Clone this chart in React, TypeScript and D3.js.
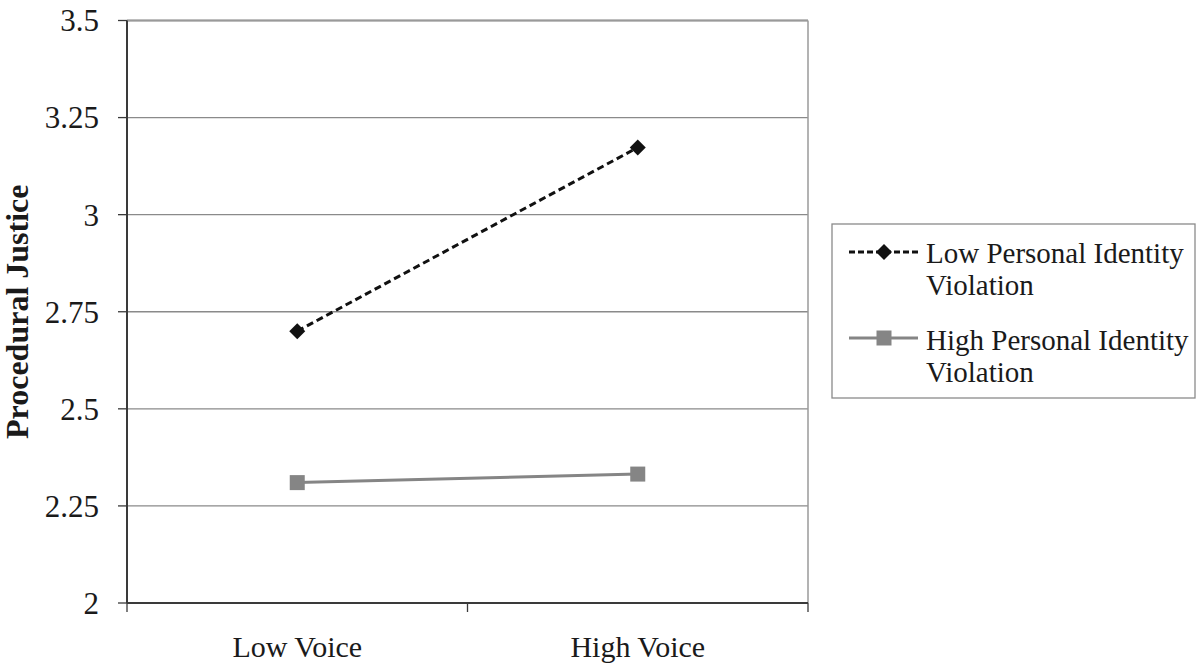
import React from "react";
import * as d3 from "d3";

const categories = ["Low Voice", "High Voice"];
const seriesNames = ["Low Personal Identity Violation", "High Personal Identity Violation"];
const lowPIV = [2.7, 3.173];
const highPIV = [2.31, 2.332];
const yTicks = [2, 2.25, 2.5, 2.75, 3, 3.25, 3.5];
const yTickLabels = ["2", "2.25", "2.5", "2.75", "3", "3.25", "3.5"];

const W = 1200;
const H = 666;
const L = 127, R = 808, T = 20.5, B = 603;
const FONT = "'Liberation Serif', 'Times New Roman', serif";

export default function App() {
  const x = d3.scaleBand().domain(categories).range([L, R]).padding(0);
  const y = d3.scaleLinear().domain([2, 3.5]).range([B, T]);
  const cx = (c: string) => (x(c) as number) + x.bandwidth() / 2;
  const line = d3.line<[number, number]>().x((d) => d[0]).y((d) => d[1]);
  const lowPts: [number, number][] = categories.map((c, i) => [cx(c), y(lowPIV[i])]);
  const highPts: [number, number][] = categories.map((c, i) => [cx(c), y(highPIV[i])]);
  const diamond = (px: number, py: number, r: number) =>
    `M${px},${py - r}L${px + r},${py}L${px},${py + r}L${px - r},${py}Z`;
  const xEdges = [L, ...categories.map((c) => (x(c) as number) + x.bandwidth())];

  return (
    <svg width={W} height={H} style={{ position: "absolute", left: 0, top: 0, background: "#fff" }}>
      {yTicks.slice(1).map((t) => (
        <line key={t} x1={L} x2={R} y1={y(t)} y2={y(t)} stroke="#8a8a8a" strokeWidth={1.3} />
      ))}
      <line x1={L} x2={R} y1={T} y2={T} stroke="#9a9a9a" strokeWidth={2} />
      <line x1={R} x2={R} y1={T} y2={B} stroke="#9a9a9a" strokeWidth={1.5} />
      <line x1={L} x2={L} y1={T} y2={B} stroke="#3a3a3a" strokeWidth={2} />
      {yTicks.map((t, i) => (
        <g key={t}>
          <line x1={L - 9} x2={L} y1={y(t)} y2={y(t)} stroke="#3a3a3a" strokeWidth={1.3} />
          <text x={99} y={y(t)} dy="0.35em" textAnchor="end" fontFamily={FONT} fontSize={31} fill="#1a1a1a">
            {yTickLabels[i]}
          </text>
        </g>
      ))}
      <line x1={L} x2={R} y1={B} y2={B} stroke="#3a3a3a" strokeWidth={2} />
      {xEdges.map((e, i) => (
        <line key={i} x1={e} x2={e} y1={B} y2={B + 9} stroke="#3a3a3a" strokeWidth={1.3} />
      ))}
      {categories.map((c) => (
        <text key={c} x={cx(c)} y={657} textAnchor="middle" fontFamily={FONT} fontSize={30} fill="#1a1a1a">
          {c}
        </text>
      ))}
      <text
        transform={`translate(28,${(T + B) / 2}) rotate(-90)`}
        textAnchor="middle"
        fontFamily={FONT}
        fontWeight="bold"
        fontSize={32}
        fill="#1a1a1a"
      >
        Procedural Justice
      </text>
      <path d={line(highPts) || ""} fill="none" stroke="#858585" strokeWidth={3} />
      {highPts.map((p, i) => (
        <rect key={i} x={p[0] - 7.5} y={p[1] - 7.5} width={15} height={15} fill="#858585" />
      ))}
      <path d={line(lowPts) || ""} fill="none" stroke="#111" strokeWidth={3} strokeDasharray="7,4" />
      {lowPts.map((p, i) => (
        <path key={i} d={diamond(p[0], p[1], 8)} fill="#111" />
      ))}
      <rect x={832} y={224} width={363} height={174} fill="#fff" stroke="#8a8a8a" strokeWidth={1.3} />
      <line x1={849} x2={918} y1={252} y2={252} stroke="#111" strokeWidth={3} strokeDasharray="6,3" />
      <path d={diamond(884, 252, 8)} fill="#111" />
      <line x1={849} x2={918} y1={338} y2={338} stroke="#858585" strokeWidth={3} />
      <rect x={876.5} y={330.5} width={15} height={15} fill="#858585" />
      <text fontFamily={FONT} fontSize={29} fill="#1a1a1a">
        <tspan x={926} y={263}>Low Personal Identity</tspan>
        <tspan x={926} y={295}>Violation</tspan>
        <tspan x={926} y={350}>High Personal Identity</tspan>
        <tspan x={926} y={382}>Violation</tspan>
      </text>
    </svg>
  );
}
